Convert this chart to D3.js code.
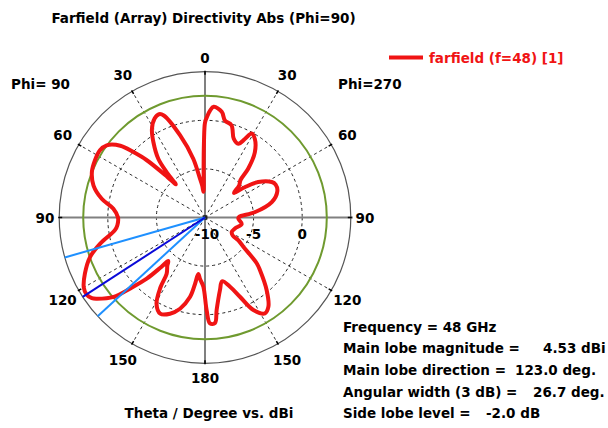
<!DOCTYPE html>
<html>
<head>
<meta charset="utf-8">
<script src="https://cdn.jsdelivr.net/npm/d3@7"></script>
<style>
  html, body { margin: 0; padding: 0; background: #fff; }
  svg { display: block; }
  text { font-family: "DejaVu Sans", Verdana, sans-serif; font-weight: bold; font-size: 13.5px; }
</style>
</head>
<body>
<svg id="chart" width="608" height="428"></svg>
<script>
// ---- data (plot angle in degrees, counter-clockwise from top: 0..180 = Phi 90 side, 180..360 = Phi 270 side)
const angleDeg = [0, 0.8, 1.6, 2.6, 3.6, 5, 7.3, 11.3, 16.9, 22, 24, 27, 31, 34.5, 38.5, 40.3, 41.3, 42.8, 45.5, 47.6,
  49.7, 53.7, 57.4, 62.5, 68, 74, 79.7, 84.5, 90, 95, 98, 104, 109, 115, 120, 123, 125.5, 127, 131, 133.5,
  136.4, 138.5, 139.8, 142, 145.7, 147.5, 150.7, 155, 160, 164.7, 169.3, 171.5, 173.2, 175.5, 178.6, 181, 182.7, 185.4, 187.2, 191.7,
  195, 199.9, 203.8, 207.6, 212, 215.4, 220.3, 226.2, 228.5, 232.7, 235.6, 237, 241.5, 250, 260, 268, 271, 276, 283, 290,
  295, 298, 303.7, 307.3, 310.4, 313, 316.5, 318.5, 322.6, 327.6, 331, 333, 335.7, 340, 344, 348.4, 351, 355.5, 357.3, 359];
const dirDbi = [-0.23, -2.3, -4.9, -7.1, -7.35, -6.7, -6.0, -3.83, -1.15, 1.32, 1.63, 1.42, 0.60, -0.64, -2.28, -4.0, -5.45, -4.3, -1.56, -0.02,
  1.42, 2.55, 2.83, 2.76, 2.55, 1.93, 0.80, -0.53, -1.05, -0.95, -0.64, 1.11, 2.51, 3.63, 4.40, 4.53, 4.3, 3.89, 2.45, 0.60,
  -1.31, -3.21, -4.14, -3.7, -3.00, -1.46, 0.19, 0.91, 0.53, -0.27, -1.67, -3.11, -4.14, -3.62, -2.90, -0.48, 0.91, 0.91, -0.43, -2.39,
  -3.21, -2.43, -1.09, 0.74, 1.63, 1.26, -0.19, -2.16, -2.90, -5.04, -5.84, -6.6, -6.87, -6.72, -6.17, -6.57, -6.5, -4.86, -2.95, -2.08,
  -1.98, -2.22, -3.42, -4.86, -6.09, -5.2, -4.7, -3.3, -1.56, -0.43, -0.12, -0.91, -1.67, -1.36, -0.12, 0.19, 1.01, 1.42, 1.01, 0.29];

const ringValues = [-10, -5, 0, 5];
const ringLabels = ["-10", "-5", "0"];
const gridAngles = [0, 30, 60, 90, 120, 150, 180, 210, 240, 270, 300, 330];
const angleLabels = ["0", "30", "60", "90", "120", "150", "180", "150", "120", "90", "60", "30"];

const mainLobeMag = 4.53;
const mainLobeDir = 123.0;
const beamEdges = [105.9, 132.6];
const sideLobeLevel = -2.0;

const titleText = "Farfield (Array) Directivity Abs (Phi=90)";
const legendText = "farfield (f=48) [1]";
const axisText = "Theta / Degree vs. dBi";
const infoLabels = ["Frequency = 48 GHz", "Main lobe magnitude =", "Main lobe direction =", "Angular width (3 dB) =", "Side lobe level ="];
const infoValues = ["", "4.53 dBi", "123.0 deg.", "26.7 deg.", "-2.0 dB"];

// ---- layout
const svg = d3.select("#chart");
const cx = 205, cy = 217.5, R = 145.8;
const r = d3.scaleLinear().domain([-10, 5]).range([0, R]);
const rad = a => -a * Math.PI / 180; // counter-clockwise
const px = (a, rr) => cx - rr * Math.sin(a * Math.PI / 180);
const py = (a, rr) => cy - rr * Math.cos(a * Math.PI / 180);

const g = svg.append("g");

// dashed radial lines
g.selectAll("line.radial").data(gridAngles.filter(a => a % 90 !== 0)).enter().append("line")
  .attr("x1", cx).attr("y1", cy)
  .attr("x2", a => px(a, R)).attr("y2", a => py(a, R))
  .attr("stroke", "#333").attr("stroke-width", 1).attr("stroke-dasharray", "3,3");

// dashed rings
g.selectAll("circle.ring").data(ringValues.slice(1, 3)).enter().append("circle")
  .attr("cx", cx).attr("cy", cy).attr("r", d => r(d))
  .attr("fill", "none").attr("stroke", "#222").attr("stroke-width", 1).attr("stroke-dasharray", "3,3");

// solid axes
g.append("line").attr("x1", cx - R).attr("x2", cx + R + 2).attr("y1", cy).attr("y2", cy)
  .attr("stroke", "#808080").attr("stroke-width", 2);
g.append("line").attr("x1", cx).attr("x2", cx).attr("y1", cy - R).attr("y2", cy + R)
  .attr("stroke", "#808080").attr("stroke-width", 2);

// outer circle
g.append("circle").attr("cx", cx).attr("cy", cy).attr("r", r(5))
  .attr("fill", "none").attr("stroke", "#555").attr("stroke-width", 1.2);

// ticks on the outer circle
g.selectAll("line.tick").data(gridAngles).enter().append("line")
  .attr("x1", a => px(a, R - 3)).attr("y1", a => py(a, R - 3))
  .attr("x2", a => px(a, R + 1)).attr("y2", a => py(a, R + 1))
  .attr("stroke", "#000").attr("stroke-width", 1.5);

// side lobe level circle
g.append("circle").attr("cx", cx).attr("cy", cy).attr("r", r(mainLobeMag + sideLobeLevel))
  .attr("fill", "none").attr("stroke", "#6f9a2f").attr("stroke-width", 2);

// center dot
g.append("circle").attr("cx", cx).attr("cy", cy).attr("r", 2.5).attr("fill", "#222");

// red curve
const pts = angleDeg.map((a, i) => [a, dirDbi[i]]);
const line = d3.lineRadial()
  .angle(d => rad(d[0]))
  .radius(d => r(d[1]))
  .curve(d3.curveCatmullRomClosed.alpha(0.5));
g.append("path").attr("transform", `translate(${cx},${cy})`)
  .attr("d", line(pts)).attr("fill", "none").attr("stroke", "#f01414").attr("stroke-width", 4)
  .attr("stroke-linejoin", "round");

// beam lines
g.selectAll("line.beam").data(beamEdges).enter().append("line")
  .attr("x1", cx).attr("y1", cy)
  .attr("x2", a => px(a, r(5))).attr("y2", a => py(a, r(5)))
  .attr("stroke", "#1e90ff").attr("stroke-width", 2);
g.append("line").attr("x1", cx).attr("y1", cy)
  .attr("x2", px(mainLobeDir, r(5))).attr("y2", py(mainLobeDir, r(5)))
  .attr("stroke", "#0a0ad8").attr("stroke-width", 2);

// ring labels
g.selectAll("text.ring").data(ringLabels).enter().append("text")
  .attr("x", (d, i) => cx + r(ringValues[i]) + (i === 0 ? 2 : 0)).attr("y", 239)
  .attr("text-anchor", "middle").attr("fill", "#000").text(d => d);

// angle labels
g.selectAll("text.ang").data(gridAngles).enter().append("text")
  .attr("x", a => px(a, 160 + 5 * Math.abs(Math.sin(2 * a * Math.PI / 180))))
  .attr("y", a => py(a, 160 + 5 * Math.abs(Math.sin(2 * a * Math.PI / 180))) + 5)
  .attr("text-anchor", "middle").attr("fill", "#000")
  .text((a, i) => angleLabels[i]);

// phi labels
svg.append("text").attr("x", 11).attr("y", 88.5).attr("fill", "#000").text("Phi= 90");
svg.append("text").attr("x", 338).attr("y", 89).attr("fill", "#000").text("Phi=270");

// title
svg.append("text").attr("x", 203.5).attr("y", 23).attr("text-anchor", "middle").attr("fill", "#000").text(titleText);

// legend
svg.append("line").attr("x1", 389).attr("x2", 423).attr("y1", 57.5).attr("y2", 57.5)
  .attr("stroke", "#f01414").attr("stroke-width", 4);
svg.append("text").attr("x", 429).attr("y", 62.5).attr("fill", "#f01414").text(legendText);

// axis caption
svg.append("text").attr("x", 209).attr("y", 418).attr("text-anchor", "middle").attr("fill", "#000").text(axisText);

// info block
const infoY = [331.7, 353.3, 375, 396.7, 418.3];
const valueX = [0, 543, 515, 533, 486];
infoLabels.forEach((t, i) => {
  svg.append("text").attr("x", 343).attr("y", infoY[i]).attr("fill", "#000").text(t);
  if (infoValues[i]) svg.append("text").attr("x", valueX[i]).attr("y", infoY[i]).attr("fill", "#000").text(infoValues[i]);
});
</script>
</body>
</html>
